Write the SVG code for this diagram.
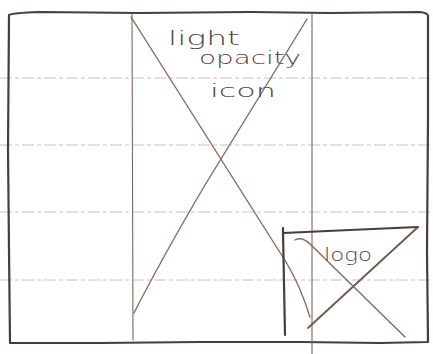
<svg xmlns="http://www.w3.org/2000/svg" width="433" height="354" viewBox="0 0 433 354">
<style>
.rule{stroke:#c4c4c8;stroke-width:1;stroke-dasharray:12 3 4 3;fill:none}
.frame{stroke:#4a3c38;stroke-width:2.2;fill:none;stroke-linecap:round;stroke-linejoin:round}
.col{stroke:#7a6660;stroke-width:1.1;fill:none;stroke-linecap:round}
.x{stroke:#866a60;stroke-width:1.4;fill:none;stroke-linecap:round}
.lx{stroke:#6e5650;stroke-width:1.8;fill:none;stroke-linecap:round}
.hand{font-family:"DejaVu Sans",sans-serif;fill:#4e4444;font-weight:300}
</style>
<rect width="433" height="354" fill="#ffffff"/>
<g id="ruled-lines">
<line class="rule" x1="0" y1="78" x2="433" y2="78"/>
<line class="rule" x1="0" y1="145" x2="433" y2="145"/>
<line class="rule" x1="0" y1="212" x2="433" y2="212"/>
<line class="rule" x1="0" y1="280" x2="433" y2="280"/>
</g>
<g id="frame">
<path class="frame" d="M9 15 Q12 13 40 12 L140 13 L250 12 L330 13 L420 12 Q428 13 428 16 L428 120 L427 250 L428 342 L380 343 L300 342 L200 342 L100 343 L10 343 L9 250 L8 150 L9 15"/>
</g>
<g id="columns">
<line class="col" x1="132" y1="14" x2="133" y2="340"/>
<line class="col" x1="312" y1="14" x2="312" y2="354"/>
</g>
<g id="icon-placeholder">
<path class="x" d="M131 17 L286 262 Q300 285 310 317"/>
<path class="x" d="M307 19 Q252 108 205 185 Q162 258 134 313"/>
<text class="hand" x="168" y="45" font-size="19" textLength="72" lengthAdjust="spacingAndGlyphs">light</text>
<text class="hand" x="199" y="64" font-size="18" textLength="102" lengthAdjust="spacingAndGlyphs">opacity</text>
<text class="hand" x="210" y="97" font-size="18" textLength="66" lengthAdjust="spacingAndGlyphs">icon</text>
</g>
<g id="logo">
<path class="frame" d="M283 228 L283 232 L285 335"/>
<path class="frame" d="M283 233 L350 230 L418 227"/>
<path class="lx" d="M418 227 L308 328"/>
<path class="x" d="M295 240 Q302 236 310 244 L405 337"/>
<text class="hand" x="324" y="261" font-size="17" textLength="48" lengthAdjust="spacingAndGlyphs">logo</text>
</g>
</svg>
